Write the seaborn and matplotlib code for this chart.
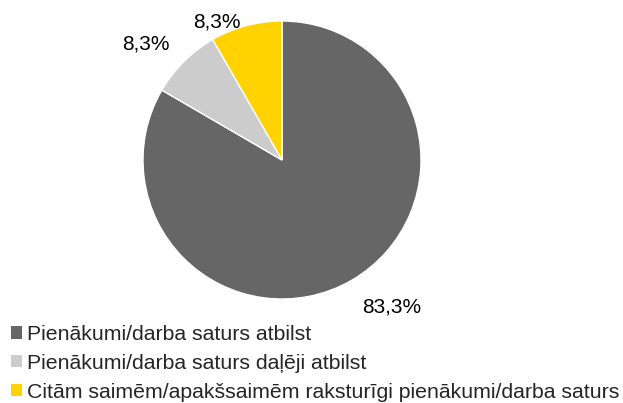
import numpy as np
import matplotlib
matplotlib.use("Agg")
import matplotlib.pyplot as plt
from matplotlib.patches import Patch
import seaborn as sns

categories = [
    "Pienākumi/darba saturs atbilst",
    "Pienākumi/darba saturs daļēji atbilst",
    "Citām saimēm/apakšsaimēm raksturīgi pienākumi/darba saturs",
]
values = [83.3, 8.3, 8.3]
value_labels = ["83,3%", "8,3%", "8,3%"]
colors = ["#666666", "#cccccc", "#ffd200"]

sns.set_theme(style="white")
plt.rcParams["font.family"] = ["Liberation Sans", "DejaVu Sans"]

fig = plt.figure(figsize=(6.23, 4.03), dpi=100)
ax = fig.add_axes([143 / 623, 104 / 403, 278 / 623, 278 / 403])

wedges, _ = ax.pie(values, colors=colors, startangle=90, counterclock=False,
                   wedgeprops=dict(edgecolor="white", linewidth=1.0))
ax.set_xlim(-1, 1)
ax.set_ylim(-1, 1)
ax.set_aspect("equal")
ax.axis("off")

# data labels placed just outside the end of each wedge
label_style = [
    dict(d=1.14, ha="left", va="top", off=(0.5, 0)),
    dict(d=1.12, ha="right", va="bottom", off=(-1.5, -3)),
    dict(d=1.12, ha="right", va="center", off=(-1, -9)),
]
for w, lab, st in zip(wedges, value_labels, label_style):
    ang = np.deg2rad((w.theta1 + w.theta2) / 2)
    pos = (st["d"] * np.cos(ang), st["d"] * np.sin(ang))
    ax.annotate(lab, xy=pos, xytext=st["off"], textcoords="offset points",
                ha=st["ha"], va=st["va"], fontsize=15, color="#000000",
                annotation_clip=False)

handles = [Patch(facecolor=col, edgecolor="none") for col in colors]
fig.legend(handles, categories, loc="upper left",
           bbox_to_anchor=(11 / 623, 1 - 325 / 403),
           frameon=False, fontsize=15.3, handlelength=0.52, handleheight=0.52,
           handletextpad=0.22, labelspacing=0.46, borderaxespad=0.0,
           borderpad=0.0)

fig.savefig("out.png", dpi=100)
